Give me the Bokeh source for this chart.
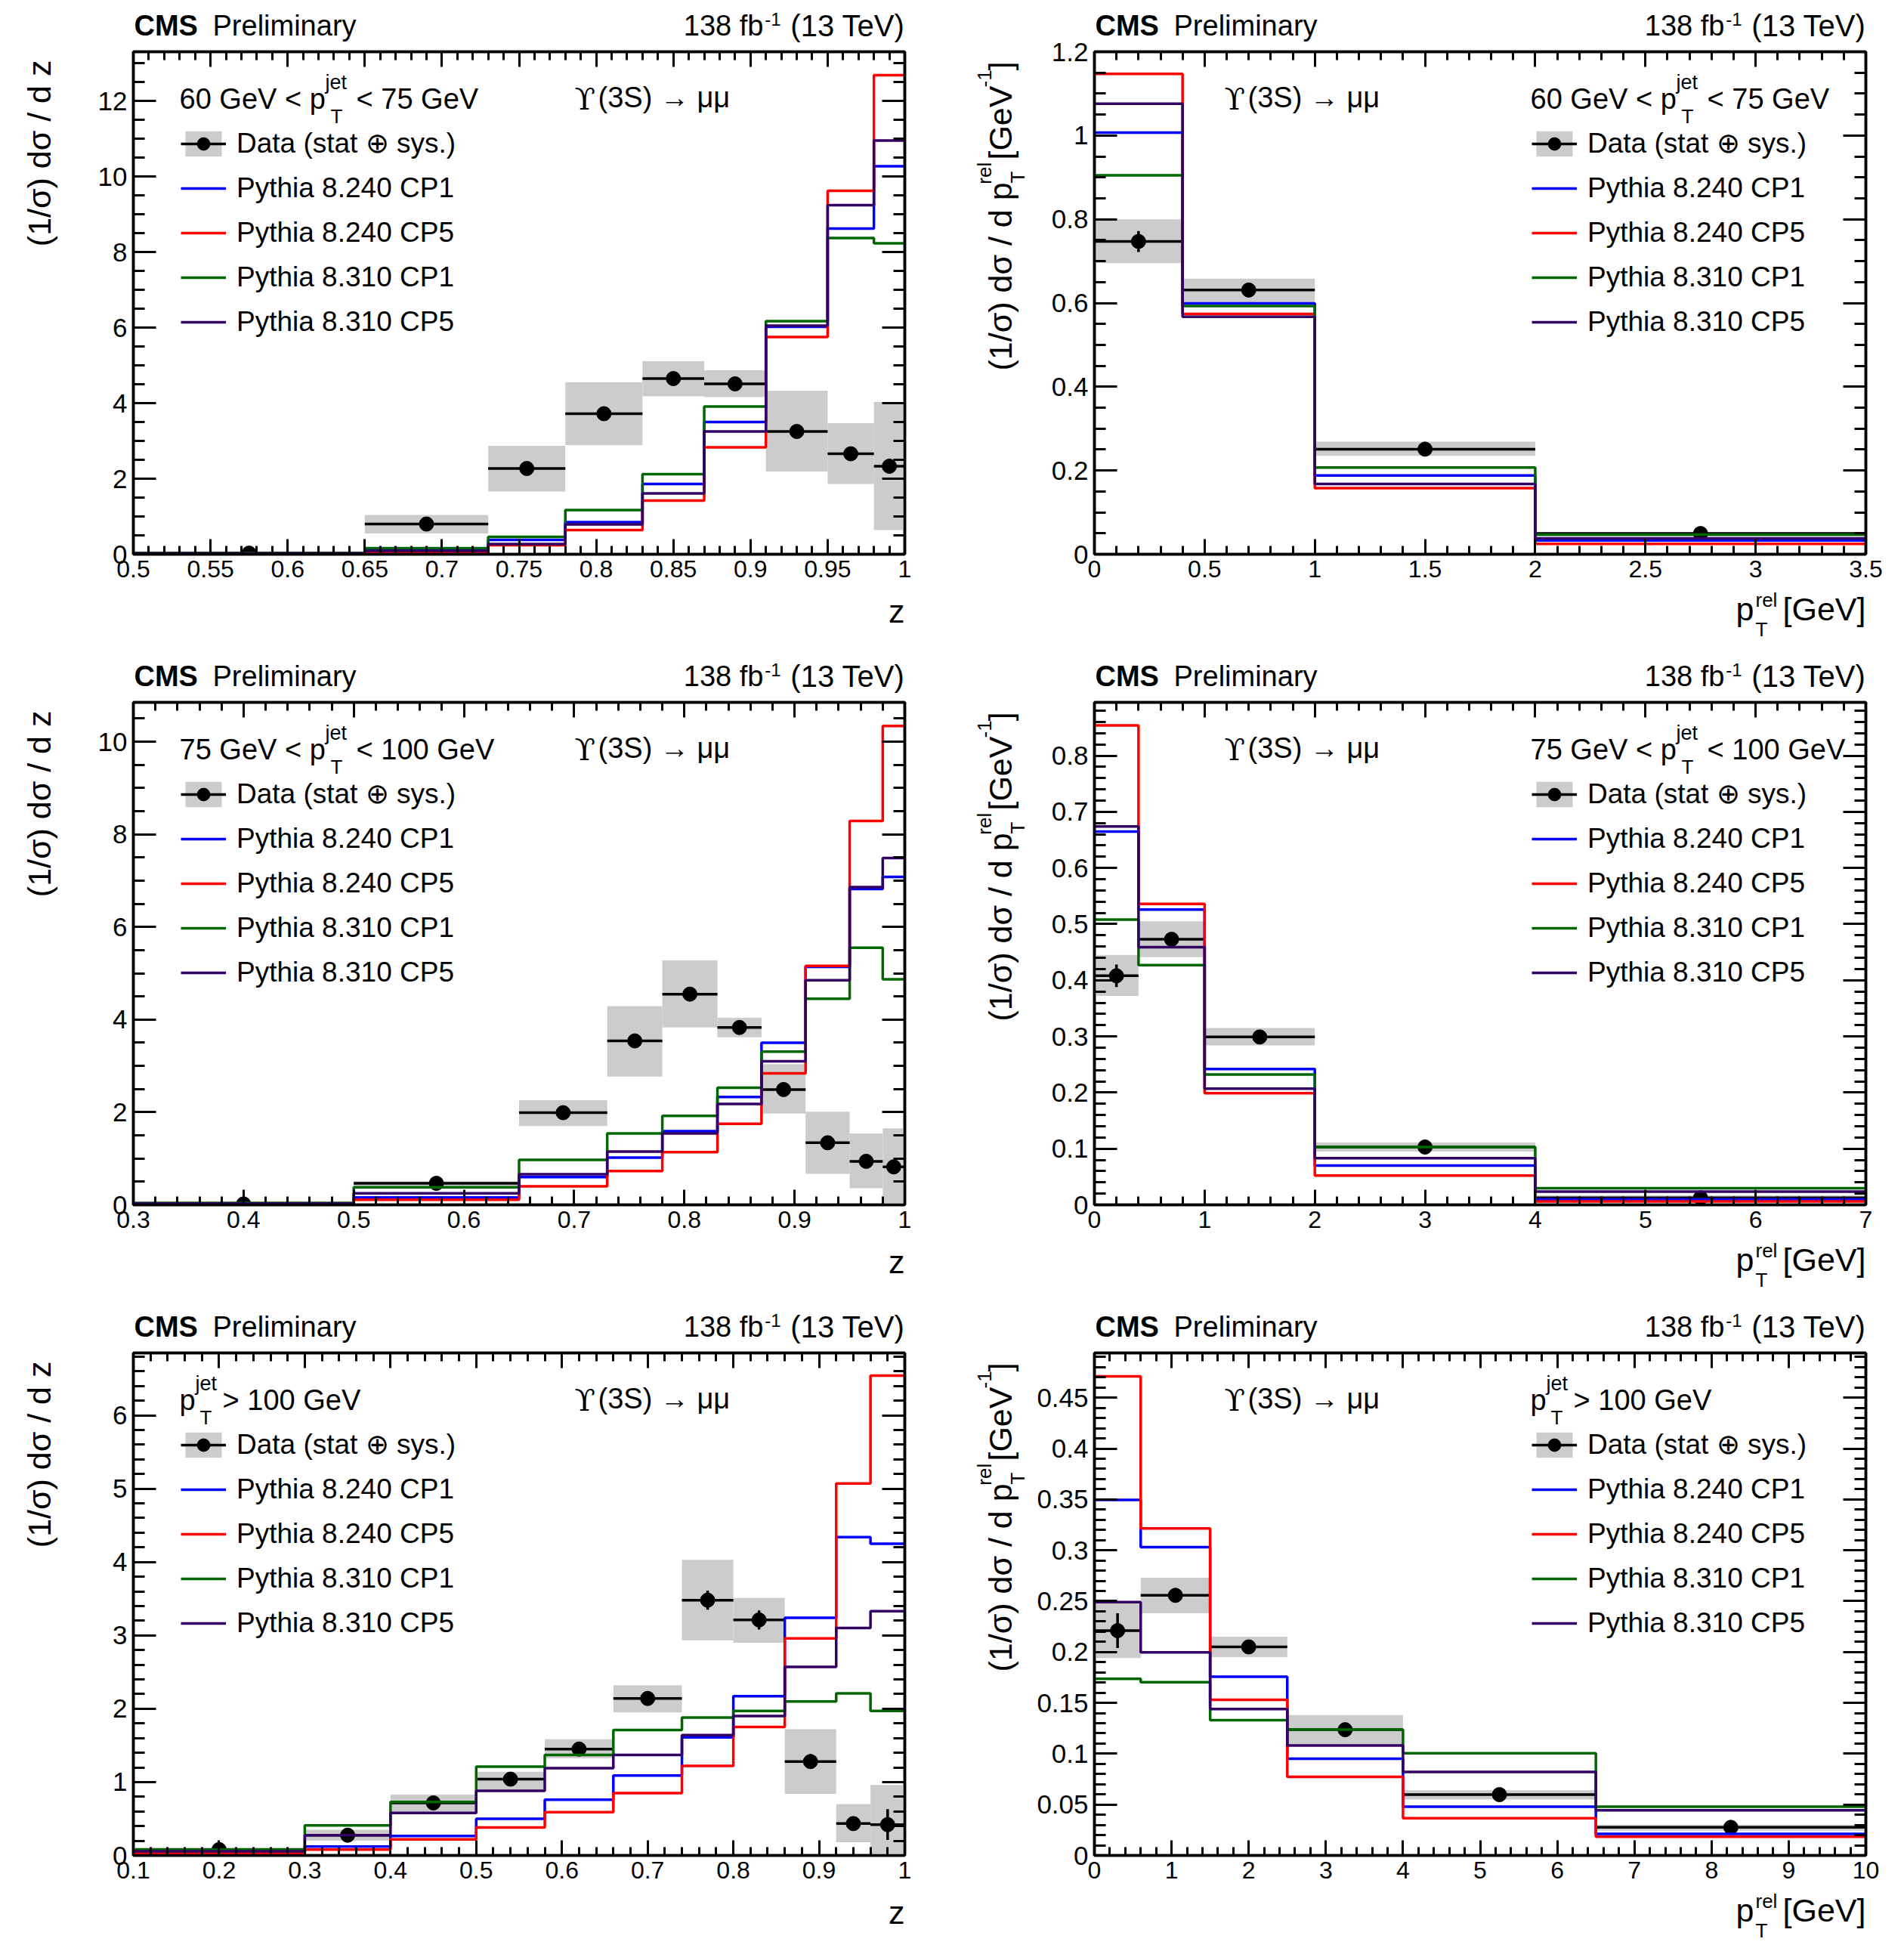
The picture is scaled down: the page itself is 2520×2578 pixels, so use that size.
import numpy as np
from bokeh.plotting import figure
from bokeh.layouts import column, row
from bokeh.models import (Range1d, FixedTicker, LinearAxis, Legend, LegendItem,
                          CustomJSTickFormatter)
from bokeh.core.properties import value
from bokeh.embed import file_html
from bokeh.resources import INLINE

# ---- data ------------------------------------------------------------------
# 60 < pT(jet) < 75 GeV, z
z1_edges = [0.5, 0.65, 0.73, 0.78, 0.83, 0.87, 0.91, 0.95, 0.98, 1.0]
z1_data = [0.03, 0.80, 2.27, 3.72, 4.65, 4.51, 3.25, 2.66, 2.33]
z1_lo = [0.0, 0.55, 1.66, 2.89, 4.18, 4.16, 2.19, 1.86, 0.64]
z1_hi = [0.06, 1.04, 2.87, 4.55, 5.11, 4.87, 4.33, 3.47, 4.03]
z1_stat = [0.02, 0.05, 0.08, 0.10, 0.10, 0.10, 0.10, 0.12, 0.20]
z1_cp1_240 = [0.02, 0.11, 0.38, 0.85, 1.86, 3.50, 6.02, 8.62, 10.27]
z1_cp5_240 = [0.01, 0.05, 0.24, 0.64, 1.42, 2.83, 5.75, 9.62, 12.68]
z1_cp1_310 = [0.03, 0.16, 0.46, 1.17, 2.12, 3.91, 6.17, 8.37, 8.23]
z1_cp5_310 = [0.02, 0.09, 0.27, 0.79, 1.61, 3.25, 6.05, 9.24, 10.95]

# 60 < pT(jet) < 75 GeV, pT rel
r1_edges = [0, 0.4, 1, 2, 3.5]
r1_data = [0.747, 0.631, 0.251, 0.0495]
r1_lo = [0.695, 0.599, 0.235, 0.043]
r1_hi = [0.800, 0.658, 0.269, 0.053]
r1_stat = [0.025, 0.008, 0.004, 0.002]
r1_cp1_240 = [1.007, 0.599, 0.188, 0.033]
r1_cp5_240 = [1.147, 0.574, 0.158, 0.025]
r1_cp1_310 = [0.905, 0.593, 0.207, 0.047]
r1_cp5_310 = [1.076, 0.567, 0.168, 0.038]

# 75 < pT(jet) < 100 GeV, z
z2_edges = [0.3, 0.5, 0.65, 0.73, 0.78, 0.83, 0.87, 0.91, 0.95, 0.98, 1.0]
z2_data = [0.02, 0.465, 1.99, 3.54, 4.55, 3.83, 2.49, 1.34, 0.94, 0.82]
z2_lo = [0.0, 0.37, 1.70, 2.77, 3.83, 3.62, 1.97, 0.67, 0.36, 0.0]
z2_hi = [0.05, 0.51, 2.26, 4.29, 5.28, 4.04, 3.04, 2.01, 1.54, 1.65]
z2_stat = [0.02, 0.04, 0.07, 0.10, 0.10, 0.08, 0.08, 0.07, 0.08, 0.12]
z2_cp1_240 = [0.02, 0.16, 0.60, 1.02, 1.59, 2.33, 3.50, 5.14, 6.82, 7.08]
z2_cp5_240 = [0.02, 0.11, 0.40, 0.73, 1.14, 1.75, 2.84, 5.16, 8.29, 10.34]
z2_cp1_310 = [0.04, 0.38, 0.97, 1.54, 1.92, 2.53, 3.31, 4.45, 5.55, 4.87]
z2_cp5_310 = [0.03, 0.25, 0.66, 1.15, 1.54, 2.18, 3.10, 4.85, 6.86, 7.49]

# 75 < pT(jet) < 100 GeV, pT rel
r2_edges = [0, 0.4, 1, 2, 4, 7]
r2_data = [0.408, 0.473, 0.299, 0.103, 0.0126]
r2_lo = [0.372, 0.441, 0.284, 0.095, 0.008]
r2_hi = [0.445, 0.505, 0.315, 0.111, 0.017]
r2_stat = [0.020, 0.008, 0.004, 0.003, 0.002]
r2_cp1_240 = [0.665, 0.526, 0.242, 0.070, 0.0096]
r2_cp5_240 = [0.854, 0.536, 0.199, 0.052, 0.006]
r2_cp1_310 = [0.508, 0.427, 0.232, 0.103, 0.0295]
r2_cp5_310 = [0.674, 0.459, 0.207, 0.083, 0.0236]

# pT(jet) > 100 GeV, z
z3_edges = [0.1, 0.3, 0.4, 0.5, 0.58, 0.66, 0.74, 0.8, 0.86, 0.92, 0.96, 1.0]
z3_data = [0.08, 0.276, 0.716, 1.04, 1.45, 2.14, 3.48, 3.21, 1.28, 0.434, 0.42]
z3_lo = [0.05, 0.20, 0.59, 0.885, 1.325, 1.95, 2.93, 2.90, 0.84, 0.18, 0.0]
z3_hi = [0.11, 0.35, 0.83, 1.14, 1.585, 2.32, 4.03, 3.51, 1.72, 0.70, 0.96]
z3_stat = [0.05, 0.04, 0.05, 0.06, 0.06, 0.08, 0.13, 0.13, 0.10, 0.05, 0.21]
z3_cp1_240 = [0.04, 0.12, 0.265, 0.50, 0.76, 1.09, 1.61, 2.17, 3.24, 4.34, 4.25]
z3_cp5_240 = [0.03, 0.08, 0.22, 0.38, 0.59, 0.85, 1.22, 1.75, 2.96, 5.07, 6.54]
z3_cp1_310 = [0.08, 0.41, 0.73, 1.21, 1.37, 1.71, 1.88, 1.97, 2.10, 2.21, 1.97]
z3_cp5_310 = [0.056, 0.276, 0.58, 0.88, 1.19, 1.37, 1.64, 1.90, 2.57, 3.10, 3.33]

# pT(jet) > 100 GeV, pT rel
r3_edges = [0, 0.6, 1.5, 2.5, 4, 6.5, 10]
r3_data = [0.221, 0.2557, 0.205, 0.1236, 0.0598, 0.0276]
r3_lo = [0.194, 0.238, 0.195, 0.1085, 0.055, 0.0244]
r3_hi = [0.248, 0.273, 0.215, 0.138, 0.064, 0.030]
r3_stat = [0.017, 0.007, 0.006, 0.003, 0.002, 0.001]
r3_cp1_240 = [0.3496, 0.303, 0.1756, 0.0951, 0.048, 0.0211]
r3_cp5_240 = [0.471, 0.3215, 0.153, 0.0772, 0.0366, 0.0183]
r3_cp1_310 = [0.1736, 0.1703, 0.133, 0.1236, 0.1004, 0.048]
r3_cp5_310 = [0.249, 0.1996, 0.144, 0.108, 0.0821, 0.0443]

# axis ticks
z1_xticks = [0.5, 0.55, 0.6, 0.65, 0.7, 0.75, 0.8, 0.85, 0.9, 0.95, 1.0]
z1_yticks = [0, 2, 4, 6, 8, 10, 12]
r1_xticks = [0, 0.5, 1, 1.5, 2, 2.5, 3, 3.5]
r1_yticks = [0, 0.2, 0.4, 0.6, 0.8, 1.0, 1.2]
z2_xticks = [0.3, 0.4, 0.5, 0.6, 0.7, 0.8, 0.9, 1.0]
z2_yticks = [0, 2, 4, 6, 8, 10]
r2_xticks = [0, 1, 2, 3, 4, 5, 6, 7]
r2_yticks = [0, 0.1, 0.2, 0.3, 0.4, 0.5, 0.6, 0.7, 0.8]
z3_xticks = [0.1, 0.2, 0.3, 0.4, 0.5, 0.6, 0.7, 0.8, 0.9, 1.0]
z3_yticks = [0, 1, 2, 3, 4, 5, 6]
r3_xticks = [0, 1, 2, 3, 4, 5, 6, 7, 8, 9, 10]
r3_yticks = [0, 0.05, 0.1, 0.15, 0.2, 0.25, 0.3, 0.35, 0.4, 0.45]

series_labels = ["Pythia 8.240 CP1", "Pythia 8.240 CP5", "Pythia 8.310 CP1", "Pythia 8.310 CP5"]
series_colors = ["#0000ff", "#ff0000", "#006600", "#330066"]
data_label = "Data (stat \u2295 sys.)"
BAND = "#cccccc"
FONT = "Liberation Sans"

FW, FH = 1021, 665            # plot frame in px
TOP = 68                      # frame top inside each cell
TB, BB = 12, 46               # main figure top/bottom borders
CELL_W = [1260, 1258]
LEFT = [176, 188]             # frame left inside each cell
YLW = [96, 104]               # width of the y title strip
ROW_H = [861, 861, 854]
MID = 0.3465                  # baseline -> em-middle, fraction of font size
LW = 3.5


def txt(fig, X, Y, text, size, align="left", angle=0.0, style="normal", font=FONT):
    fig.text(x=[X], y=[Y], text=[text], text_font=value(font),
             text_font_size=value(f"{size}px"), text_font_style=value(style),
             text_align=value(align), text_baseline=value("middle"),
             text_color=value("black"), angle=angle)


def pix(fig, px, py, text, size, align="left", rotated=False, style="normal", font=FONT):
    # px, py: baseline position in px relative to the frame's top-left (py downward)
    if rotated:
        txt(fig, px - MID * size, -py, text, size, align, np.pi / 2, style, font)
    else:
        txt(fig, px, -(py - MID * size), text, size, align, 0.0, style, font)


def mput(p, px, py, text, size, align="left", font=FONT):
    xr, yr = p.x_range, p.y_range
    x = xr.start + px / FW * (xr.end - xr.start)
    y = yr.end - (py - MID * size) / FH * (yr.end - yr.start)
    txt(p, x, y, text, size, align, 0.0, "normal", font)


def blank(width, height, xr, yr):
    f = figure(width=width, height=height, x_range=Range1d(*xr), y_range=Range1d(*yr),
               x_axis_type=None, y_axis_type=None, output_backend="svg",
               toolbar_location=None, min_border=0)
    f.outline_line_color = None
    f.background_fill_color = "white"
    f.border_fill_color = "white"
    for g in f.grid:
        g.visible = False
    return f


def style_axis(ax, ticks, minor, major_len, minor_len, show, font_size=32, standoff=8):
    ax.ticker = FixedTicker(ticks=ticks, minor_ticks=minor)
    ax.major_tick_in = major_len
    ax.major_tick_out = 0
    ax.minor_tick_in = minor_len
    ax.minor_tick_out = 0
    ax.major_tick_line_width = 3
    ax.minor_tick_line_width = 3
    ax.major_tick_line_color = "black"
    ax.minor_tick_line_color = "black"
    ax.axis_line_width = LW
    ax.axis_line_color = "black"
    if show:
        ax.formatter = CustomJSTickFormatter(code="return Number(tick.toFixed(4)).toString()")
        ax.major_label_text_font = FONT
        ax.major_label_text_font_size = f"{font_size}px"
        ax.major_label_text_color = "black"
        ax.major_label_standoff = standoff
    else:
        ax.formatter = CustomJSTickFormatter(code="return ''")
        ax.major_label_text_font_size = "0px"
        ax.major_label_standoff = 0


def cell(col, rw, edges, data, lo, hi, stat, mc, ymax, xticks, xminor, yticks, yminor,
         kind, head_pre, head_post):
    cw, left, yl, h = CELL_W[col], LEFT[col], YLW[col], ROW_H[rw]
    bot = h - TOP - FH - BB
    mh = TB + FH + BB

    p = figure(width=cw - yl, height=mh,
               x_range=Range1d(edges[0], edges[-1]), y_range=Range1d(0, ymax),
               output_backend="svg", toolbar_location=None,
               min_border_left=left - yl, min_border_right=cw - left - FW,
               min_border_top=TB, min_border_bottom=BB)
    p.xgrid.visible = False
    p.ygrid.visible = False
    p.outline_line_color = "black"
    p.outline_line_width = LW
    p.background_fill_color = "white"
    p.border_fill_color = "white"

    xmin_ticks = np.round(np.arange(edges[0], edges[-1] + xminor / 2, xminor), 6).tolist()
    ymin_ticks = np.round(np.arange(0, ymax, yminor), 6).tolist()
    style_axis(p.xaxis[0], xticks, xmin_ticks, 20, 11, True, 32, 8)
    style_axis(p.yaxis[0], yticks, ymin_ticks, 30, 15, True, 35, 8)
    top = LinearAxis()
    right = LinearAxis()
    p.add_layout(top, "above")
    p.add_layout(right, "right")
    style_axis(top, xticks, xmin_ticks, 20, 11, False)
    style_axis(right, yticks, ymin_ticks, 30, 15, False)

    e = np.asarray(edges, dtype=float)
    d = np.asarray(data)
    s = np.asarray(stat)
    c = (e[:-1] + e[1:]) / 2
    band = p.quad(left=e[:-1], right=e[1:], bottom=lo, top=hi, fill_color=BAND, line_color=None)
    errx = p.segment(x0=e[:-1], y0=d, x1=e[1:], y1=d, line_color="black", line_width=LW)
    p.segment(x0=c, y0=d - s, x1=c, y1=d + s, line_color="black", line_width=LW)
    dot = p.scatter(c, d, size=19, color="black")

    items = [LegendItem(label=data_label, renderers=[band, errx, dot])]
    for vals, lab, colr in zip(mc, series_labels, series_colors):
        r = p.step(edges, list(vals) + [vals[-1]], mode="after", line_color=colr, line_width=LW)
        items.append(LegendItem(label=lab, renderers=[r]))

    lx = 63 if col == 0 else 579
    legend = Legend(items=items, location=(lx, 286), label_text_font=FONT,
                    label_text_font_size="37px", label_text_color="black",
                    glyph_width=60, glyph_height=42, label_height=42, spacing=17,
                    label_standoff=14, padding=0, margin=0,
                    background_fill_alpha=0, border_line_color=None)
    p.add_layout(legend)

    # selection text and decay channel inside the frame
    hx = 61 if col == 0 else 577
    if len(head_pre) > 1:
        sup, sub, post = 193, 200, 234
    else:
        sup, sub, post = 21, 27, 57
    mput(p, hx, 76, head_pre, 38)
    mput(p, hx + sup, 50, "jet", 27)
    mput(p, hx + sub, 95, "T", 26)
    mput(p, hx + post, 76, head_post, 38)
    ux = 584 if col == 0 else 172
    mput(p, ux, 76, "\u03d2", 40, font="DejaVu Serif")
    mput(p, ux + 31, 74, "(3S) \u2192 \u03bc\u03bc", 38)

    # CMS line above the frame
    hdr = blank(cw, TOP - TB, (-left, cw - left), (TB, TOP))
    pix(hdr, 1, -21, "CMS", 38, style="bold")
    pix(hdr, 105, -21, "Preliminary", 38)
    pix(hdr, FW, -21, "(13 TeV)", 40, align="right")
    pix(hdr, FW - 164, -35, "-1", 24, align="right")
    pix(hdr, FW - 187, -21, "138 fb", 38, align="right")

    # y title strip (text runs upwards, anchored at the frame top)
    ylab = blank(yl, mh, (-left, -left + yl), (-(FH + BB), TB))
    # x title strip
    xlab = blank(cw, bot, (-left, cw - left), (-(FH + BB + bot), -(FH + BB)))
    if kind == "z":
        pix(ylab, -110, 0, "(1/\u03c3) d\u03c3 / d z", 43, align="right", rotated=True)
        pix(xlab, FW, 755, "z", 43, align="right")
    else:
        pix(ylab, -110, 2, "]", 43, align="right", rotated=True)
        pix(ylab, -136, 14, "-1", 26, align="right", rotated=True)
        pix(ylab, -110, 37, "[GeV", 43, align="right", rotated=True)
        pix(ylab, -136, 147, "rel", 26, align="right", rotated=True)
        pix(ylab, -92, 160, "T", 26, align="right", rotated=True)
        pix(ylab, -110, 176, "(1/\u03c3) d\u03c3 / d p", 43, align="right", rotated=True)
        pix(xlab, FW, 752, "[GeV]", 43, align="right")
        pix(xlab, FW - 146, 735, "rel", 26)
        pix(xlab, FW - 146, 774, "T", 26)
        pix(xlab, FW - 148, 752, "p", 43, align="right")

    return column(hdr, row(ylab, p), xlab)


c1 = cell(0, 0, z1_edges, z1_data, z1_lo, z1_hi, z1_stat,
          [z1_cp1_240, z1_cp5_240, z1_cp1_310, z1_cp5_310], 13.3,
          z1_xticks, 0.01, z1_yticks, 0.5, "z", "60 GeV < p", "< 75 GeV")
c2 = cell(1, 0, r1_edges, r1_data, r1_lo, r1_hi, r1_stat,
          [r1_cp1_240, r1_cp5_240, r1_cp1_310, r1_cp5_310], 1.2,
          r1_xticks, 0.1, r1_yticks, 0.05, "rel", "60 GeV < p", "< 75 GeV")
c3 = cell(0, 1, z2_edges, z2_data, z2_lo, z2_hi, z2_stat,
          [z2_cp1_240, z2_cp5_240, z2_cp1_310, z2_cp5_310], 10.85,
          z2_xticks, 0.02, z2_yticks, 0.5, "z", "75 GeV < p", "< 100 GeV")
c4 = cell(1, 1, r2_edges, r2_data, r2_lo, r2_hi, r2_stat,
          [r2_cp1_240, r2_cp5_240, r2_cp1_310, r2_cp5_310], 0.895,
          r2_xticks, 0.2, r2_yticks, 0.02, "rel", "75 GeV < p", "< 100 GeV")
c5 = cell(0, 2, z3_edges, z3_data, z3_lo, z3_hi, z3_stat,
          [z3_cp1_240, z3_cp5_240, z3_cp1_310, z3_cp5_310], 6.85,
          z3_xticks, 0.02, z3_yticks, 0.2, "z", "p", "> 100 GeV")
c6 = cell(1, 2, r3_edges, r3_data, r3_lo, r3_hi, r3_stat,
          [r3_cp1_240, r3_cp5_240, r3_cp1_310, r3_cp5_310], 0.494,
          r3_xticks, 0.2, r3_yticks, 0.01, "rel", "p", "> 100 GeV")

page = column(row(c1, c2), row(c3, c4), row(c5, c6))
open("out.html", "w").write(file_html(page, INLINE))
